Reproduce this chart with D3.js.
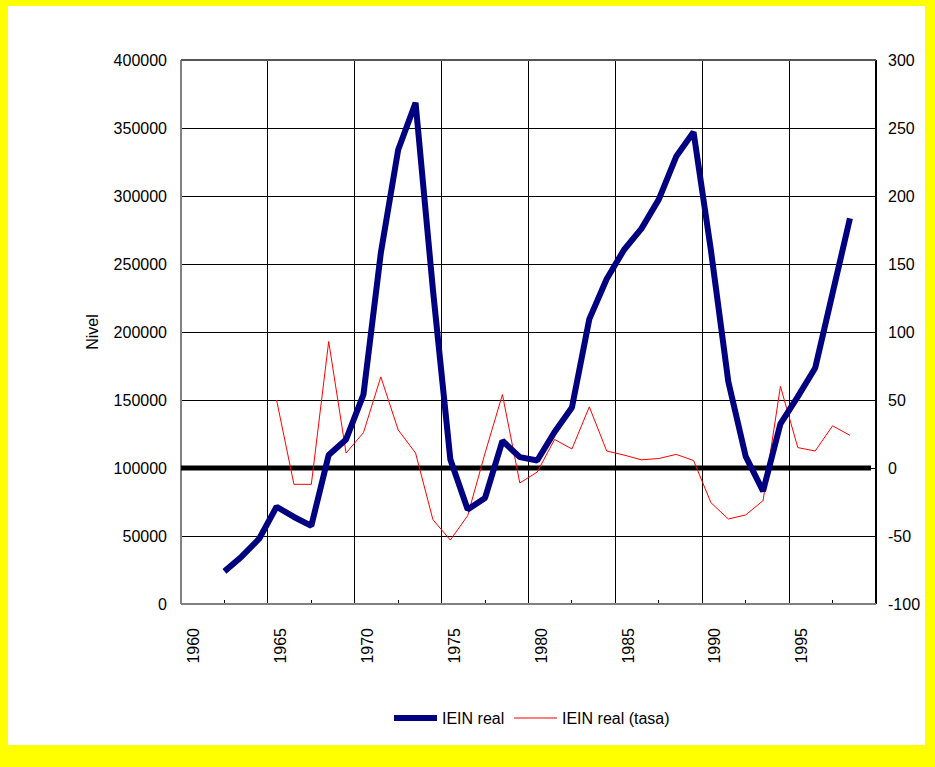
<!DOCTYPE html>
<html>
<head>
<meta charset="utf-8">
<script src="https://cdn.jsdelivr.net/npm/d3@7"></script>
<style>
  body { margin: 0; background: #ffff00; }
  svg { display: block; font-family: "Liberation Sans", Arial, sans-serif; }
</style>
</head>
<body>
<svg id="chart" width="935" height="767"></svg>
<script>
// years on the category axis
const years = [
    1960, 1961, 1962, 1963, 1964, 1965, 1966, 1967, 1968, 1969,
    1970, 1971, 1972, 1973, 1974, 1975, 1976, 1977, 1978, 1979,
    1980, 1981, 1982, 1983, 1984, 1985, 1986, 1987, 1988, 1989,
    1990, 1991, 1992, 1993, 1994, 1995, 1996, 1997, 1998, 1999
];
const yearLabels = [1960, 1965, 1970, 1975, 1980, 1985, 1990, 1995];

// IEIN real (nivel), 1962-1998
const nivelYears = [
    1962, 1963, 1964, 1965, 1966, 1967, 1968, 1969, 1970, 1971,
    1972, 1973, 1974, 1975, 1976, 1977, 1978, 1979, 1980, 1981,
    1982, 1983, 1984, 1985, 1986, 1987, 1988, 1989, 1990, 1991,
    1992, 1993, 1994, 1995, 1996, 1997, 1998
];
const nivelValues = [
    24000, 35000, 48000, 71500, 64000, 57500, 109500, 121000, 154000, 258000,
    334000, 368500, 231000, 106500, 69500, 78000, 120000, 108000, 105500, 126500,
    144500, 209500, 239000, 260500, 276000, 297500, 329000, 347000, 260000, 163500,
    108500, 83000, 132500, 152500, 173500, 228500, 283500
];

// IEIN real (tasa), 1965-1998, right axis
const tasaYears = [
    1965, 1966, 1967, 1968, 1969, 1970, 1971, 1972, 1973, 1974,
    1975, 1976, 1977, 1978, 1979, 1980, 1981, 1982, 1983, 1984,
    1985, 1986, 1987, 1988, 1989, 1990, 1991, 1992, 1993, 1994,
    1995, 1996, 1997, 1998
];
const tasaValues = [
    50, -12, -12, 93, 11, 26, 67, 28, 11, -38,
    -53, -35, 11, 54, -11, -3, 21, 14, 45, 12.5,
    9.5, 6, 7, 10, 5.5, -25.5, -37.5, -34.5, -24, 60,
    15, 12.5, 31, 24
];

const leftTicks = [0, 50000, 100000, 150000, 200000, 250000, 300000, 350000, 400000];
const rightTicks = [-100, -50, 0, 50, 100, 150, 200, 250, 300];

const svg = d3.select("#chart");
const fontSize = 16;

// white chart area inside the yellow frame
svg.append("rect")
    .attr("x", 8).attr("y", 6)
    .attr("width", 917).attr("height", 739)
    .attr("fill", "#ffffff");

const plot = { left: 181, top: 60, right: 876, bottom: 604 };

const xScale = d3.scaleBand()
    .domain(years)
    .range([plot.left, plot.right])
    .padding(0);
const bw = xScale.bandwidth();
const xCenter = d => xScale(d) + bw / 2;

const yLeft = d3.scaleLinear()
    .domain([0, 400000])
    .range([plot.bottom, plot.top]);

const yRight = d3.scaleLinear()
    .domain([-100, 300])
    .range([plot.bottom, plot.top]);

// horizontal gridlines
svg.selectAll(".hgrid")
    .data(leftTicks.slice(1))
    .join("line")
    .attr("class", "hgrid")
    .attr("x1", plot.left).attr("x2", plot.right)
    .attr("y1", d => yLeft(d)).attr("y2", d => yLeft(d))
    .attr("stroke", "#000").attr("stroke-width", 1)
    .attr("shape-rendering", "crispEdges");

// vertical gridlines every 5 years
svg.selectAll(".vgrid")
    .data(yearLabels.slice(1))
    .join("line")
    .attr("class", "vgrid")
    .attr("x1", d => xScale(d)).attr("x2", d => xScale(d))
    .attr("y1", plot.top).attr("y2", plot.bottom)
    .attr("stroke", "#000").attr("stroke-width", 1)
    .attr("shape-rendering", "crispEdges");

// minor ticks on the bottom axis, half way between gridlines
svg.selectAll(".minorTick")
    .data(yearLabels)
    .join("line")
    .attr("class", "minorTick")
    .attr("x1", d => xScale(d) + 2.5 * bw).attr("x2", d => xScale(d) + 2.5 * bw)
    .attr("y1", plot.bottom).attr("y2", plot.bottom - 4)
    .attr("stroke", "#000").attr("stroke-width", 1)
    .attr("shape-rendering", "crispEdges");

// axis lines
svg.append("line")
    .attr("x1", plot.left).attr("x2", plot.left)
    .attr("y1", plot.top).attr("y2", plot.bottom)
    .attr("stroke", "#808080").attr("stroke-width", 1.5)
    .attr("shape-rendering", "crispEdges");
svg.append("line")
    .attr("x1", plot.right).attr("x2", plot.right)
    .attr("y1", plot.top).attr("y2", plot.bottom)
    .attr("stroke", "#000").attr("stroke-width", 1.5)
    .attr("shape-rendering", "crispEdges");
svg.append("line")
    .attr("x1", plot.left).attr("x2", plot.right)
    .attr("y1", plot.bottom).attr("y2", plot.bottom)
    .attr("stroke", "#808080").attr("stroke-width", 1.5)
    .attr("shape-rendering", "crispEdges");
svg.append("line")
    .attr("x1", plot.left).attr("x2", plot.right)
    .attr("y1", plot.top).attr("y2", plot.top)
    .attr("stroke", "#555").attr("stroke-width", 1.5)
    .attr("shape-rendering", "crispEdges");

// reference line at tasa = 0
svg.append("line")
    .attr("x1", plot.left).attr("x2", plot.right - 5)
    .attr("y1", yRight(0)).attr("y2", yRight(0))
    .attr("stroke", "#000").attr("stroke-width", 5);

// tick labels
svg.selectAll(".leftLabel")
    .data(leftTicks)
    .join("text")
    .attr("class", "leftLabel")
    .attr("x", plot.left - 14)
    .attr("y", d => yLeft(d))
    .attr("text-anchor", "end")
    .attr("dominant-baseline", "central")
    .attr("font-size", fontSize)
    .text(d => d);

svg.selectAll(".rightLabel")
    .data(rightTicks)
    .join("text")
    .attr("class", "rightLabel")
    .attr("x", plot.right + 12)
    .attr("y", d => yRight(d))
    .attr("text-anchor", "start")
    .attr("dominant-baseline", "central")
    .attr("font-size", fontSize)
    .text(d => d);

svg.selectAll(".yearLabel")
    .data(yearLabels)
    .join("text")
    .attr("class", "yearLabel")
    .attr("transform", d => `translate(${xCenter(d) + 4},${plot.bottom + 24}) rotate(-90)`)
    .attr("text-anchor", "end")
    .attr("dominant-baseline", "central")
    .attr("font-size", fontSize)
    .text(d => d);

svg.append("text")
    .attr("transform", `translate(92,${(plot.top + plot.bottom) / 2}) rotate(-90)`)
    .attr("text-anchor", "middle")
    .attr("dominant-baseline", "central")
    .attr("font-size", fontSize)
    .text("Nivel");

// series
const nivelLine = d3.line()
    .x((d, i) => xCenter(nivelYears[i]))
    .y(d => yLeft(d));

const tasaLine = d3.line()
    .x((d, i) => xCenter(tasaYears[i]))
    .y(d => yRight(d));

svg.append("path")
    .attr("d", tasaLine(tasaValues))
    .attr("fill", "none")
    .attr("stroke", "#ff0000")
    .attr("stroke-width", 1);

svg.append("path")
    .attr("d", nivelLine(nivelValues))
    .attr("fill", "none")
    .attr("stroke", "#000080")
    .attr("stroke-width", 6)
    .attr("stroke-linejoin", "bevel");

// LEGEND
const legendItems = [
    { name: "IEIN real", color: "#000080", width: 6, x: 394 },
    { name: "IEIN real (tasa)", color: "#ff0000", width: 1, x: 514 }
];
const legendY = 718;

svg.selectAll(".legendLine")
    .data(legendItems)
    .join("line")
    .attr("class", "legendLine")
    .attr("x1", d => d.x).attr("x2", d => d.x + 43)
    .attr("y1", legendY).attr("y2", legendY)
    .attr("stroke", d => d.color)
    .attr("stroke-width", d => d.width);

svg.selectAll(".legendText")
    .data(legendItems)
    .join("text")
    .attr("class", "legendText")
    .attr("x", d => d.x + 48)
    .attr("y", legendY)
    .attr("dominant-baseline", "central")
    .attr("font-size", fontSize)
    .text(d => d.name);
</script>
</body>
</html>
